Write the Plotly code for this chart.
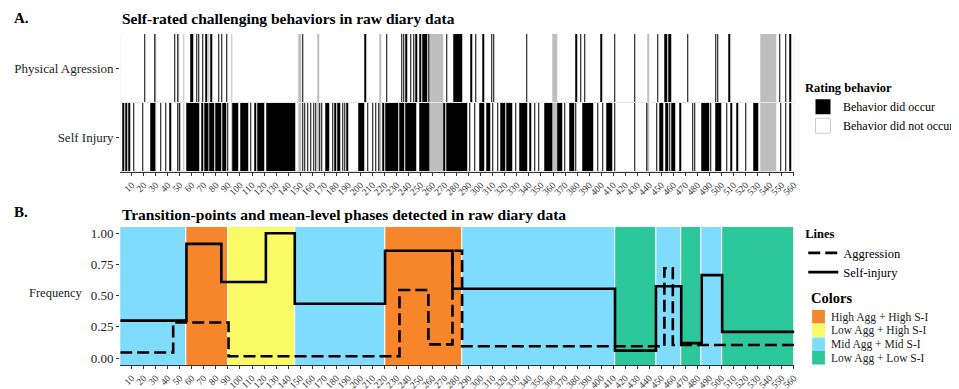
import plotly.graph_objects as go

# ---------------- data ----------------
n_days = 560
row_labels = ["Physical Agression", "Self Injury"]
tick_vals = list(range(10, 561, 10))

# runs of days (first, last)
missing_runs = [(30, 30), (49, 49), (53, 53), (74, 74), (93, 93), (149, 150), (165, 165),
                (216, 217), (258, 268), (360, 363), (439, 439), (533, 545)]
agg_occur_runs = [(21, 21), (29, 29), (46, 46), (48, 48), (59, 61), (64, 64), (66, 66), (69, 69),
                  (72, 72), (76, 76), (82, 82), (85, 85), (89, 89), (152, 152), (204, 204), (222, 222),
                  (234, 234), (236, 236), (238, 238), (242, 242), (244, 244), (246, 247), (249, 250),
                  (252, 255), (257, 257), (272, 272), (278, 284), (292, 292), (296, 296), (302, 302),
                  (309, 309), (311, 311), (338, 338), (379, 380), (383, 383), (386, 386), (400, 400),
                  (411, 411), (428, 428), (447, 447), (453, 454), (456, 458), (472, 472), (495, 495),
                  (497, 497), (506, 507), (548, 548), (553, 553), (557, 557)]
si_occur_runs = [(3, 3), (5, 6), (8, 8), (12, 12), (19, 19), (26, 29), (34, 34), (38, 38), (42, 42),
                 (48, 48), (50, 50), (56, 66), (68, 69), (71, 73), (75, 78), (80, 84), (86, 88), (90, 90),
                 (94, 98), (101, 106), (109, 109), (112, 113), (115, 120), (122, 145), (152, 152),
                 (154, 154), (156, 156), (159, 159), (161, 161), (163, 163), (166, 166), (168, 168),
                 (171, 174), (177, 177), (179, 179), (181, 183), (185, 185), (187, 187), (189, 189),
                 (199, 203), (206, 206), (210, 210), (213, 213), (215, 215), (219, 219), (221, 231),
                 (233, 236), (238, 246), (249, 257), (269, 270), (272, 288), (291, 291), (295, 295),
                 (299, 302), (305, 307), (310, 310), (314, 314), (317, 320), (322, 326), (329, 329),
                 (332, 338), (341, 341), (345, 345), (348, 348), (353, 359), (364, 367), (370, 370),
                 (374, 377), (379, 379), (385, 393), (397, 397), (401, 401), (405, 409), (411, 411),
                 (428, 428), (438, 438), (446, 446), (449, 451), (454, 455), (457, 457), (459, 461),
                 (465, 466), (476, 476), (478, 478), (484, 489), (491, 491), (495, 499), (504, 504),
                 (508, 508), (513, 513), (520, 520), (527, 530), (549, 549), (553, 553), (557, 557)]

# panel B: mean-level phases
phase_start = [1, 56, 91, 146, 221, 285, 412, 446, 467, 484, 501]
phase_end = [55, 90, 145, 220, 284, 411, 445, 466, 483, 500, 560]
phase_type = ["Mid Agg + Mid S-I", "High Agg + High S-I", "Low Agg + High S-I", "Mid Agg + Mid S-I",
              "High Agg + High S-I", "Mid Agg + Mid S-I", "Low Agg + Low S-I", "Mid Agg + Mid S-I",
              "Low Agg + Low S-I", "Mid Agg + Mid S-I", "Low Agg + Low S-I"]
phase_names = ["High Agg + High S-I", "Low Agg + High S-I", "Mid Agg + Mid S-I", "Low Agg + Low S-I"]
phase_legend_text = ["High Agg + High S-I", "Low Agg + High S-I", "Mid Agg + Mid S-I", "Low Agg + Low S-I"]
phase_colors = ["#F7862B", "#FAFA64", "#80DCFD", "#2CC89B"]

# panel B: step lines (segment start day, level)
si_start = [1, 56, 85, 122, 146, 221, 277, 412, 446, 467, 484, 501]
si_level = [0.30, 0.915, 0.61, 1.00, 0.435, 0.86, 0.555, 0.06, 0.575, 0.12, 0.665, 0.21]
agg_start = [1, 45, 91, 233, 257, 277, 285, 453, 460]
agg_level = [0.045, 0.285, 0.015, 0.545, 0.11, 0.86, 0.095, 0.72, 0.105]

# ---------------- build ----------------
def row_values(occ_runs):
    vals = [0.0] * n_days
    for a, b in occ_runs:
        for d in range(a, b + 1):
            vals[d - 1] = 1.0
    for a, b in missing_runs:
        for d in range(a, b + 1):
            vals[d - 1] = 0.5
    return vals

days = list(range(1, n_days + 1))
z = [row_values(si_occur_runs), row_values(agg_occur_runs)]

FONT = "Liberation Serif"
fig = go.Figure()

fig.add_trace(go.Heatmap(
    x=days, y=[row_labels[1], row_labels[0]], z=z, zmin=0, zmax=1,
    colorscale=[[0, "#ffffff"], [0.3, "#ffffff"], [0.3, "#bebebe"], [0.7, "#bebebe"],
                [0.7, "#000000"], [1, "#000000"]],
    showscale=False, ygap=1, xaxis="x", yaxis="y", hoverinfo="skip"))

# legend 1 entries
fig.add_trace(go.Scatter(x=[None], y=[None], mode="markers", name="Behavior did occur",
                         marker=dict(symbol="square", size=15, color="black"),
                         legend="legend", xaxis="x", yaxis="y"))
fig.add_trace(go.Scatter(x=[None], y=[None], mode="markers", name="Behavior did not occur",
                         marker=dict(symbol="square", size=15, color="white",
                                     line=dict(color="#cccccc", width=1)),
                         legend="legend", xaxis="x", yaxis="y"))

# phases as bars
for name, col in zip(phase_names, phase_colors):
    xs, ws = [], []
    for s, e, t in zip(phase_start, phase_end, phase_type):
        if t == name:
            xs.append((s + e) / 2)
            ws.append(e - s + 1)
    fig.add_trace(go.Bar(x=xs, y=[1.2] * len(xs), base=-0.1, width=ws, name=name,
                         marker=dict(color=col, line=dict(color="white", width=1)),
                         showlegend=False, xaxis="x2", yaxis="y2", hoverinfo="skip"))

def step_xy(starts, levels):
    xs = [s - 0.5 for s in starts] + [n_days + 0.5]
    ys = list(levels) + [levels[-1]]
    return xs, ys

ax, ay = step_xy(agg_start, agg_level)
sx, sy = step_xy(si_start, si_level)
fig.add_trace(go.Scatter(x=ax, y=ay, mode="lines", line_shape="hv", name="Aggression",
                         line=dict(color="black", width=2.6, dash="12px,5px"),
                         legend="legend2", xaxis="x2", yaxis="y2"))
fig.add_trace(go.Scatter(x=sx, y=sy, mode="lines", line_shape="hv", name="Self-injury",
                         line=dict(color="black", width=2.6),
                         legend="legend2", xaxis="x2", yaxis="y2"))

# page body has an 8px default margin -> figure occupies 951x381 of the 959x389 window
OFF = 8
W, H = 959 - OFF, 389 - OFF
def px(x):
    return (x - OFF) / W
def py(y):
    return 1 - (y - OFF) / H

xdom = [px(122), px(807)]
xaxis_common = dict(range=[0.5, n_days + 0.5], tickmode="array", tickvals=tick_vals,
                    ticktext=[str(v) for v in tick_vals], tickangle=-45,
                    tickfont=dict(family=FONT, size=9.5, color="#333333"),
                    ticks="outside", ticklen=3, tickcolor="#333333", showgrid=False,
                    zeroline=False, showline=True, linecolor="#333333", linewidth=1,
                    automargin=False)

annotations = [
    dict(text="<b>A.</b>", x=px(12), y=py(18), xref="paper", yref="paper",
         xanchor="left", yanchor="middle", showarrow=False, font=dict(family=FONT, size=15)),
    dict(text="<b>Self-rated challenging behaviors in raw diary data</b>", x=px(122), y=py(18),
         xref="paper", yref="paper", xanchor="left", yanchor="middle", showarrow=False,
         font=dict(family=FONT, size=15.5)),
    dict(text="<b>B.</b>", x=px(12), y=py(212), xref="paper", yref="paper",
         xanchor="left", yanchor="middle", showarrow=False, font=dict(family=FONT, size=15)),
    dict(text="<b>Transition-points and mean-level phases detected in raw diary data</b>",
         x=px(122), y=py(214), xref="paper", yref="paper", xanchor="left", yanchor="middle",
         showarrow=False, font=dict(family=FONT, size=15.5)),
    dict(text="Frequency", x=px(86), y=py(293), xref="paper", yref="paper",
         xanchor="right", yanchor="middle", showarrow=False,
         font=dict(family=FONT, size=12.5, color="#222222")),
    dict(text="<b>Colors</b>", x=px(822), y=py(298), xref="paper", yref="paper",
         xanchor="left", yanchor="middle", showarrow=False, font=dict(family=FONT, size=14.5)),
]
shapes = []
sq_top = [310, 323.5, 337.5, 351]
for i, (txt, col) in enumerate(zip(phase_legend_text, phase_colors)):
    t = sq_top[i]
    shapes.append(dict(type="rect", xref="paper", yref="paper", x0=px(825), x1=px(838),
                       y0=py(t + 13.5), y1=py(t), fillcolor=col, line=dict(width=0)))
    annotations.append(dict(text=txt, x=px(842), y=py(t + 7), xref="paper", yref="paper",
                            xanchor="left", yanchor="middle", showarrow=False,
                            font=dict(family=FONT, size=11.5, color="#222222")))

fig.update_layout(
    width=W, height=H, margin=dict(l=0, r=0, t=0, b=0),
    paper_bgcolor="white", plot_bgcolor="#e6e6e6",
    barmode="overlay", bargap=0,
    font=dict(family=FONT, size=12, color="black"),
    xaxis=dict(domain=xdom, anchor="y", **xaxis_common),
    yaxis=dict(domain=[py(172), py(34)], anchor="x", ticks="outside", ticklen=3,
               tickcolor="#333333", tickfont=dict(family=FONT, size=13, color="#222222"),
               showgrid=False, zeroline=False, automargin=False),
    xaxis2=dict(domain=xdom, anchor="y2", **xaxis_common),
    yaxis2=dict(domain=[py(365), py(227)], anchor="x2", range=[-0.055, 1.05],
                tickmode="array", tickvals=[0, 0.25, 0.5, 0.75, 1.0],
                ticktext=["0.00", "0.25", "0.50", "0.75", "1.00"],
                ticks="outside", ticklen=3, tickcolor="#333333",
                tickfont=dict(family=FONT, size=13, color="#222222"),
                showgrid=False, zeroline=False, automargin=False),
    legend=dict(x=px(816), y=py(76), xanchor="left", yanchor="top",
                title=dict(text="<b>Rating behavior</b>", font=dict(family=FONT, size=12.5)),
                font=dict(family=FONT, size=12), bgcolor="rgba(0,0,0,0)", itemwidth=30),
    legend2=dict(x=px(816), y=py(222), xanchor="left", yanchor="top",
                 title=dict(text="<b>Lines</b>", font=dict(family=FONT, size=12.5)),
                 font=dict(family=FONT, size=12.5), bgcolor="rgba(0,0,0,0)", itemwidth=30),
    annotations=annotations,
    shapes=shapes,
)

fig.write_html("out.html")
